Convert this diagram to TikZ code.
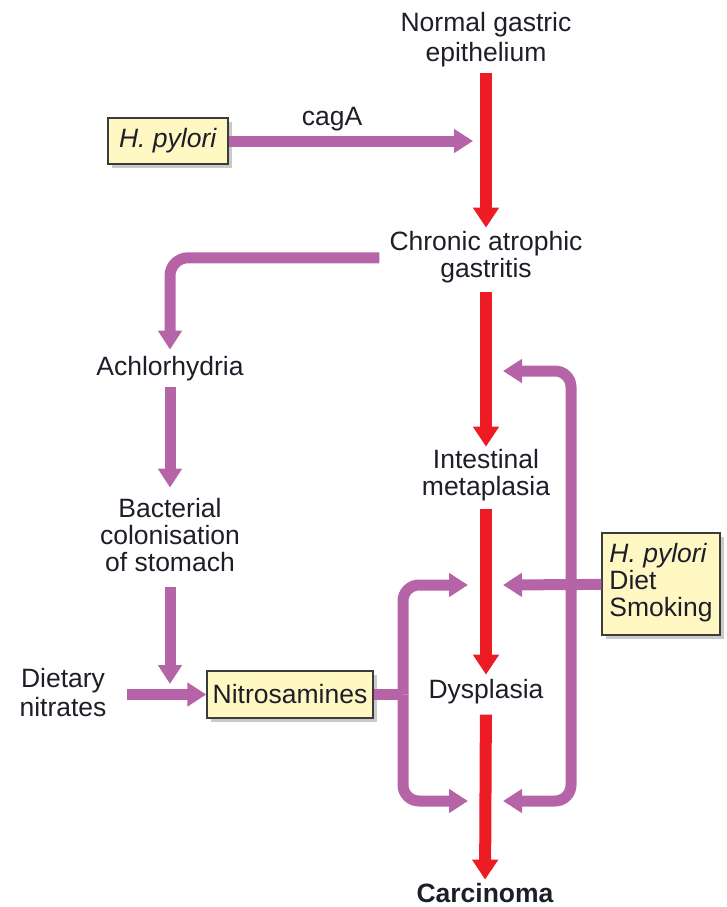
\documentclass[tikz,border=0pt]{standalone}
\usepackage{fontspec}
\setmainfont{Liberation Sans}
\usetikzlibrary{arrows.meta,shadows}
\definecolor{redarr}{RGB}{237,28,36}
\definecolor{purp}{RGB}{181,101,167}
\definecolor{boxfill}{RGB}{255,248,194}
\definecolor{boxline}{RGB}{60,60,60}
\definecolor{txtc}{RGB}{30,30,40}
\newcommand{\ctr}[1]{\begin{tabular}[t]{@{}c@{}}#1\end{tabular}}
\newcommand{\lft}[1]{\begin{tabular}[t]{@{}l@{}}#1\end{tabular}}
\tikzset{
  txt/.style={font=\fontsize{26.5}{26}\selectfont, text=txtc, inner sep=0pt, anchor=base},
  infobox/.style={draw=boxline, line width=1.4pt, fill=boxfill, text=txtc,
    font=\fontsize{26.5}{26}\selectfont, inner sep=0pt,
    drop shadow={shadow xshift=4pt, shadow yshift=-4pt, fill=black!60, opacity=0.35}},
  redarrow/.style={draw=redarr, line width=12pt, -{Triangle[width=25pt,length=20pt]}},
  purpline/.style={draw=purp, line width=11pt},
  purparrow/.style={purpline, -{Triangle[width=23pt,length=19pt]}},
  purpboth/.style={purpline, {Triangle[width=23pt,length=19pt]}-{Triangle[width=23pt,length=19pt]}}
}
\begin{document}
\begin{tikzpicture}[x=1pt,y=-1pt]
\useasboundingbox (0,0) rectangle (726,907);

% main sequence
\node[txt] (norm)  at (486,32)  {\ctr{Normal gastric\\[2pt]epithelium}};
\node[txt] (chron) at (486,250) {\ctr{Chronic atrophic\\gastritis}};
\node[txt] (intes) at (486,468) {\ctr{Intestinal\\metaplasia}};
\node[txt] (dysp)  at (486,698) {Dysplasia};
\node[txt, font=\fontsize{26.5}{26}\selectfont\bfseries] (carc) at (485,902) {Carcinoma};

% left branch
\node[txt] (achl) at (170,375) {Achlorhydria};
\node[txt] (bact) at (170,517) {\ctr{Bacterial\\colonisation\\of stomach}};
\node[txt] (diet) at (63,687)  {\ctr{Dietary\\[2pt]nitrates}};
\node[txt] (cag)  at (332,125) {cagA};

% coordinates for free ends
\coordinate (cagtip) at (473,141);
\coordinate (bj)     at (170,684);
\coordinate (lj)     at (403,694.5);
\coordinate (ltop)   at (468,585);
\coordinate (lbot)   at (468,801);
\coordinate (rtop)   at (503,371);
\coordinate (rmid)   at (503,585);
\coordinate (rbot)   at (503,801);

% red arrows
\draw[redarrow, shorten <=4pt, shorten >=3pt] (norm) -- (chron);
\draw[redarrow, shorten <=7pt, shorten >=2pt] (chron) -- (intes);
\draw[redarrow, shorten <=6pt, shorten >=4pt] (intes) -- (dysp);
\draw[redarrow, shorten <=11pt, shorten >=3pt] (dysp) -- (carc);

% purple arrows
\draw[purparrow, rounded corners=18pt, shorten <=10pt, shorten >=6pt] (chron.west) -| (achl.north);
\draw[purparrow, shorten <=6pt, shorten >=10pt] (achl) -- (bact);
\draw[purparrow, shorten <=8pt] (bact) -- (bj);

% boxes
\node[infobox, minimum width=120pt, minimum height=46pt] (hp1) at (168,141) {\textit{H. pylori}};
\node[infobox, minimum width=166pt, minimum height=47pt] (nitro) at (290,694.5) {Nitrosamines};
\node[infobox, minimum width=118pt, minimum height=102pt] (hp2) at (661,584) {\lft{\textit{H. pylori}\\Diet\\Smoking}};

\draw[purparrow] (hp1) -- (cagtip);
\draw[purparrow, shorten <=20pt] (diet.east |- nitro.west) -- (nitro.west);

\draw[purpline] (nitro.east) -- (lj);
\draw[purparrow, rounded corners=16pt] (lj) |- (ltop);
\draw[purparrow, rounded corners=16pt] (lj) |- (lbot);

\draw[purpboth, rounded corners=16pt] (rtop) -| (571,585) |- (rbot);
\draw[purparrow] (hp2) -- (rmid);
\end{tikzpicture}
\end{document}
